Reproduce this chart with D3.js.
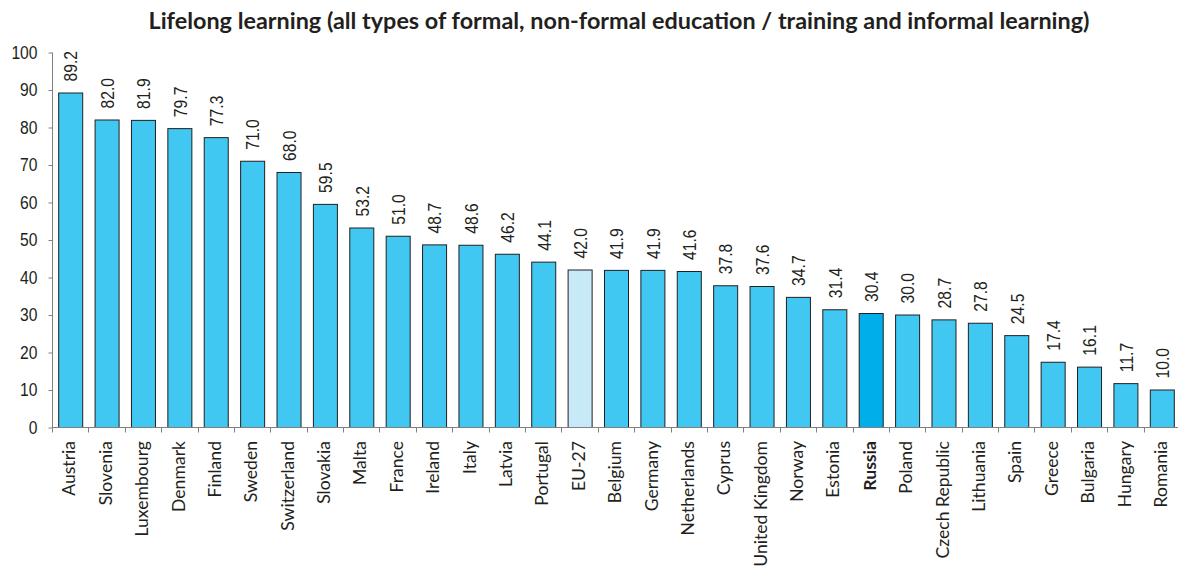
<!DOCTYPE html>
<html>
<head>
<meta charset="utf-8">
<script src="https://cdn.jsdelivr.net/npm/d3@7"></script>
<style>
  body { margin: 0; background: #fff; }
  .title { font-family: Lato, "Open Sans", sans-serif; font-weight: bold; font-size: 23.4px; fill: #231f20; }
  .value { font-family: "Liberation Sans", Arial, sans-serif; font-size: 18px; fill: #231f20; }
  .y.axis text { font-family: "Liberation Sans", Arial, sans-serif; font-size: 18px; fill: #231f20; }
  .cat { font-family: Lato, "Open Sans", sans-serif; font-size: 17.6px; fill: #231f20; }
  .axis path, .axis line { stroke: #808080; }
</style>
</head>
<body>
<div id="chart"></div>
<script>
const countries = ['Austria', 'Slovenia', 'Luxembourg', 'Denmark', 'Finland', 'Sweden', 'Switzerland',
  'Slovakia', 'Malta', 'France', 'Ireland', 'Italy', 'Latvia', 'Portugal', 'EU-27', 'Belgium',
  'Germany', 'Netherlands', 'Cyprus', 'United Kingdom', 'Norway', 'Estonia', 'Russia', 'Poland',
  'Czech Republic', 'Lithuania', 'Spain', 'Greece', 'Bulgaria', 'Hungary', 'Romania'];
const values = [89.2, 82.0, 81.9, 79.7, 77.3, 71.0, 68.0, 59.5, 53.2, 51.0, 48.7, 48.6, 46.2, 44.1,
  42.0, 41.9, 41.9, 41.6, 37.8, 37.6, 34.7, 31.4, 30.4, 30.0, 28.7, 27.8, 24.5, 17.4, 16.1, 11.7, 10.0];
const yTicks = [0, 10, 20, 30, 40, 50, 60, 70, 80, 90, 100];
const titleText = 'Lifelong learning (all types of formal, non-formal education / training and informal learning)';

const width = 1178;
const height = 569;
const margin = { left: 52, right: 0, top: 52, bottom: 142 };
const narrow = 0.87; // no Arial Narrow here, squeeze the sans instead

const data = countries.map((c, i) => ({ country: c, value: values[i] }));

function barColor(d) {
  if (d.country === 'EU-27') return '#c8e9f8';
  if (d.country === 'Russia') return '#00aeea';
  return '#40c8f2';
}

const x = d3.scaleBand()
  .domain(countries)
  .range([margin.left, 1180])
  .paddingInner(0.34)
  .paddingOuter(0.17);

const y = d3.scaleLinear()
  .domain([0, 100])
  .range([height - margin.bottom, margin.top]);

const svg = d3.select('#chart').append('svg')
    .attr('width', width)
    .attr('height', height);

// title
svg.append('text')
    .attr('class', 'title')
    .attr('x', 619)
    .attr('y', 29)
    .attr('text-anchor', 'middle')
    .text(titleText);

// bars
svg.selectAll('.bar')
  .data(data)
  .enter().append('rect')
    .attr('class', 'bar')
    .attr('x', d => x(d.country) + 0.5)
    .attr('y', d => y(d.value) + 0.5)
    .attr('width', x.bandwidth())
    .attr('height', d => y(0) - y(d.value))
    .attr('fill', barColor)
    .attr('stroke', '#231f20')
    .attr('stroke-width', 1);

// value labels
svg.selectAll('.value')
  .data(data)
  .enter().append('text')
    .attr('class', 'value')
    .attr('text-anchor', 'start')
    .attr('dy', '0.35em')
    .attr('transform', d => `translate(${x(d.country) + x.bandwidth() / 2 + 1}, ${y(d.value) - 11}) rotate(-90) scale(${narrow}, 1)`)
    .text(d => d.value.toFixed(1));

// y axis
const yAxis = d3.axisLeft(y)
  .tickValues(yTicks)
  .tickSize(4)
  .tickFormat(d3.format('d'));

svg.append('g')
    .attr('class', 'y axis')
    .attr('transform', `translate(${margin.left + 0.5}, 0.5)`)
    .call(yAxis)
    .call(g => g.select('.domain').attr('d', `M0,${y(100)}V${y(0)}`))
    .call(g => g.selectAll('.tick text')
      .attr('x', null)
      .attr('transform', `translate(-15, 0) scale(${narrow}, 1)`));

// x axis line with ticks between categories
const xAxis = svg.append('g')
    .attr('class', 'x axis')
    .attr('transform', `translate(0, ${y(0) + 0.5})`);

xAxis.append('path')
    .attr('d', `M${margin.left},0H${width}`)
    .attr('fill', 'none');

xAxis.selectAll('line')
  .data(d3.range(countries.length + 1))
  .enter().append('line')
    .attr('x1', i => Math.round(margin.left + i * x.step()) + 0.5)
    .attr('x2', i => Math.round(margin.left + i * x.step()) + 0.5)
    .attr('y1', 0)
    .attr('y2', 5);

// category labels
svg.selectAll('.cat')
  .data(data)
  .enter().append('text')
    .attr('class', 'cat')
    .attr('text-anchor', 'end')
    .attr('dy', '0.35em')
    .attr('font-weight', d => d.country === 'Russia' ? 'bold' : null)
    .attr('transform', d => `translate(${x(d.country) + x.bandwidth() / 2 - 1}, ${y(0) + 14}) rotate(-90)`)
    .text(d => d.country);
</script>
</body>
</html>
